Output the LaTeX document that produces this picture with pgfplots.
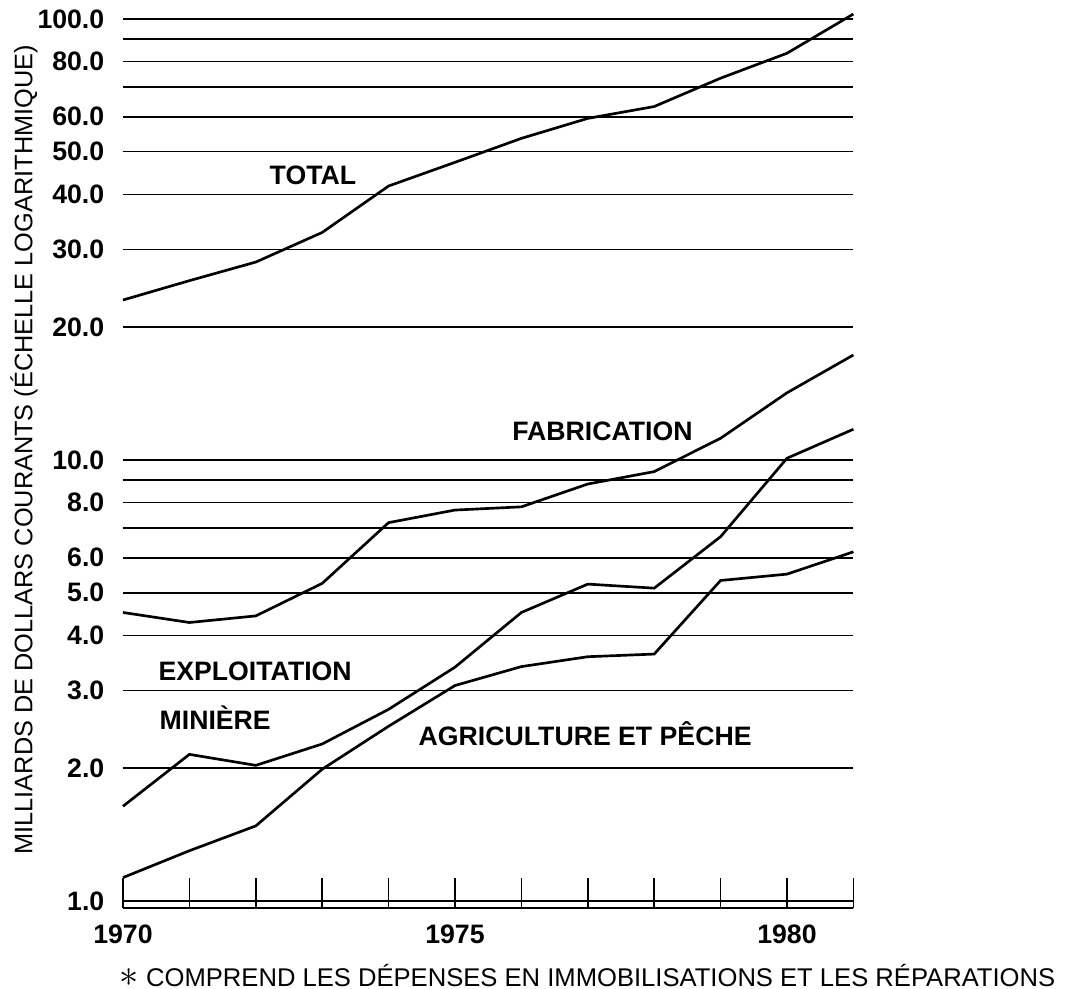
\documentclass[border=0pt]{standalone}
\usepackage{pgfplots}
\pgfplotsset{compat=1.18}
\usepackage{fontspec}
\setmainfont{Liberation Sans}
\begin{document}
\begin{tikzpicture}[font=\fontsize{10}{12}\selectfont\bfseries]
\path[use as bounding box] (-46.125pt,-30pt) rectangle (354pt,340.5pt);
\begin{axis}[
  at={(0,0)}, anchor=south west,
  scale only axis, width=273.9pt, height=336.9pt,
  xmin=1970, xmax=1981,
  ymode=log, ymin=0.964, ymax=105,
  axis line style={draw=none},
  xtick={1970,...,1981},
  xticklabels={1970,,,,,1975,,,,,1980,},
  xtick pos=bottom, xtick align=inside,
  major tick length=11.25pt,
  xtick style={black, line width=0.6pt},
  xticklabel style={yshift=-5pt, inner sep=1pt},
  ytick={1,2,3,4,5,6,7,8,9,10,20,30,40,50,60,70,80,90,100},
  yticklabels={1.0,2.0,3.0,4.0,5.0,6.0,,8.0,,10.0,20.0,30.0,40.0,50.0,60.0,,80.0,,100.0},
  ytick style={draw=none},
  yticklabel style={xshift=-3.5pt},
  ymajorgrids, grid style={black, line width=0.6pt},
  ylabel={MILLIARDS DE DOLLARS COURANTS (ÉCHELLE LOGARITHMIQUE)},
  ylabel style={at={(rel axis cs:-0.1355,0.510)}, anchor=center,
    font=\fontsize{9.5}{11}\selectfont\mdseries},
  clip=false,
]
\draw[black, line width=0.6pt] (rel axis cs:0,0) -- (rel axis cs:1,0);

% total
\addplot[black, line width=1pt, mark=none] coordinates {
  (1970,23.05) (1971,25.5) (1972,28.1) (1973,32.8) (1974,41.8) (1975,47.3)
  (1976,53.6) (1977,59.5) (1978,63.3) (1979,73.4) (1980,83.6) (1981,102.6)
};
% fabrication
\addplot[black, line width=1pt, mark=none] coordinates {
  (1970,4.51) (1971,4.28) (1972,4.43) (1973,5.25) (1974,7.21) (1975,7.70)
  (1976,7.83) (1977,8.82) (1978,9.41) (1979,11.2) (1980,14.2) (1981,17.3)
};
% exploitation miniere
\addplot[black, line width=1pt, mark=none] coordinates {
  (1970,1.64) (1971,2.15) (1972,2.03) (1973,2.27) (1974,2.72) (1975,3.39)
  (1976,4.51) (1977,5.23) (1978,5.12) (1979,6.70) (1980,10.09) (1981,11.74)
};
% agriculture et peche
\addplot[black, line width=1pt, mark=none] coordinates {
  (1970,1.13) (1971,1.30) (1972,1.48) (1973,1.99) (1974,2.49) (1975,3.08)
  (1976,3.40) (1977,3.58) (1978,3.63) (1979,5.33) (1980,5.51) (1981,6.19)
};

\node at (axis cs:1972.86,44.3) {TOTAL};
\node at (axis cs:1977.22,11.59) {FABRICATION};
\node at (axis cs:1971.99,3.31) {EXPLOITATION};
\node[anchor=west] at (axis cs:1970.41,2.61) {MINIÈRE};
\node at (axis cs:1976.96,2.40) {AGRICULTURE ET PÊCHE};
\end{axis}
\node[font=\fontsize{9.6}{11}\selectfont\mdseries, inner sep=0.5pt] at (174.2pt,-25.3pt)
  {{\fontsize{14}{14}\selectfont$\ast$} COMPREND LES DÉPENSES EN IMMOBILISATIONS ET LES RÉPARATIONS};
\end{tikzpicture}
\end{document}
